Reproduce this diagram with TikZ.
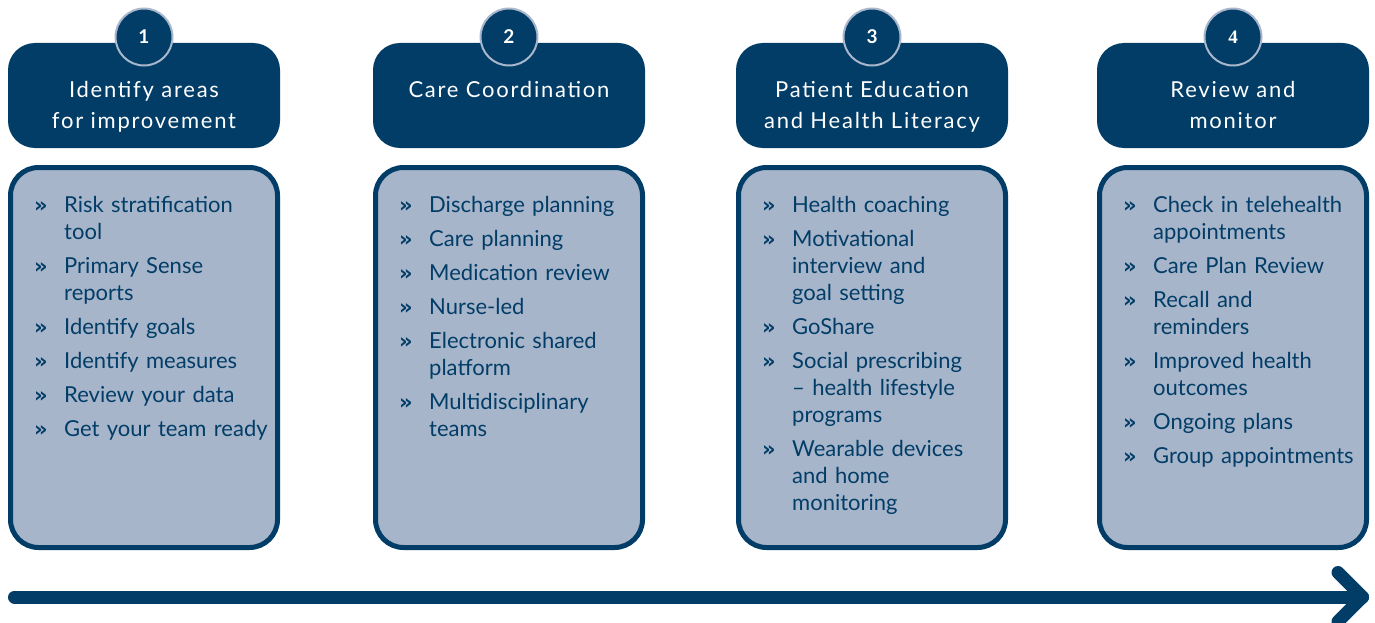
\documentclass[tikz,border=0pt]{standalone}
\usepackage{fontspec}
\setmainfont{Lato}
\newfontfamily\titlefont[LetterSpace=8]{Lato}
\newfontfamily\numserif{Liberation Serif}
\newfontfamily\bulletfont{DejaVu Sans}

\definecolor{navy}{HTML}{023D67}
\definecolor{paleblue}{HTML}{A7B5CA}
\definecolor{ringblue}{HTML}{A9B7CC}

% bullet hung into the left margin of a list line
\newcommand\stepbullet{\leavevmode\llap{\makebox[30pt][l]{\bulletfont\bfseries\fontsize{21}{21}\selectfont »}}}
% list layout: hanging text, fixed first-line height, gap between items
\newcommand\steplist{\leftskip=30pt\rightskip=0pt plus 1fil\parindent=0pt\parfillskip=0pt plus 1fil\parskip=7pt\relax\leavevmode\rule{0pt}{20pt}}

\tikzset{
  headbox/.style={fill=navy, rounded corners=27pt, minimum width=272, minimum height=105, inner sep=0},
  numdisc/.style={circle, draw=ringblue, line width=2, fill=navy, minimum size=57, inner sep=0,
    text=white, font=\bfseries\fontsize{19}{19}\selectfont},
  titletext/.style={anchor=north, inner sep=0, text width=268, align=center, text=white,
    font=\titlefont\fontsize{22}{31.5}\selectfont},
  cardbox/.style={draw=navy, line width=5, fill=paleblue, rounded corners=28pt,
    minimum width=267, minimum height=380, inner sep=0},
  listtext/.style={anchor=north west, inner sep=0, text width=268, text=navy,
    font=\fontsize{22}{27}\selectfont},
  timeline/.style={draw=navy, line width=13, line cap=round, line join=round},
}

% one step: header box, number disc, title, card with its list
\newcommand\stepcolumn[5]{%
  \node[headbox] (head#1) at (#2+136, 95.5) {};
  \node[numdisc] (num#1) at (#2+136, 37) {#4};
  \node[titletext] (title#1) at (#2+136, 77) {\rule{0pt}{20pt}#3};
  \node[cardbox] (card#1) at (#2+136, 357.5) {};
  \node[listtext] (list#1) at (#2+26, 192) {\steplist #5\par};
}

\begin{document}
\begin{tikzpicture}[x=1pt, y=-1pt]
\useasboundingbox (0,0) rectangle (1375,623);

\stepcolumn{1}{8}{Identify areas\\for improvement}{1}{%
  \stepbullet Risk stratification\newline tool\par
  \stepbullet Primary Sense\newline reports\par
  \stepbullet Identify goals\par
  \stepbullet Identify measures\par
  \stepbullet Review your data\par
  \stepbullet Get your team ready}

\stepcolumn{2}{373}{Care Coordination}{2}{%
  \stepbullet Discharge planning\par
  \stepbullet Care planning\par
  \stepbullet Medication review\par
  \stepbullet Nurse-led\par
  \stepbullet Electronic shared\newline platform\par
  \stepbullet Multidisciplinary\newline teams}

\stepcolumn{3}{736}{Patient Education\\and Health Literacy}{3}{%
  \stepbullet Health coaching\par
  \stepbullet Motivational\newline interview and\newline goal setting\par
  \stepbullet GoShare\par
  \stepbullet Social prescribing\newline – health lifestyle\newline programs\par
  \stepbullet Wearable devices\newline and home\newline monitoring}

\stepcolumn{4}{1097}{Review and\\monitor}{{\numserif 4}}{%
  \stepbullet Check in telehealth\newline appointments\par
  \stepbullet Care Plan Review\par
  \stepbullet Recall and\newline reminders\par
  \stepbullet Improved health\newline outcomes\par
  \stepbullet Ongoing plans\par
  \stepbullet Group appointments}

% timeline arrow along the bottom
\coordinate (tlstart) at (14.5, 597);
\coordinate (tlend) at (1362.5, 597);
\draw[timeline] (tlstart) -- (tlend);
\draw[timeline] (tlend) ++(-24.5,-24.5) -- (tlend) -- ++(-24.5,24.5);
\end{tikzpicture}
\end{document}
